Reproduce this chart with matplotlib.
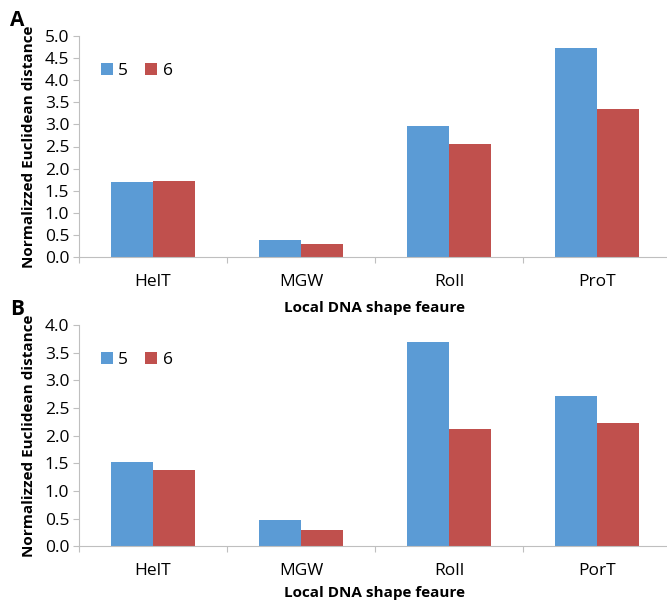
import matplotlib
matplotlib.use('Agg')
import matplotlib.pyplot as plt
import numpy as np

plt.rcParams['font.family'] = ['Open Sans', 'DejaVu Sans']

# Data
features_a = ['HelT', 'MGW', 'Roll', 'ProT']
features_b = ['HelT', 'MGW', 'Roll', 'PorT']
series_names = ['5', '6']
vals_a_5 = [1.70, 0.385, 2.97, 4.73]
vals_a_6 = [1.73, 0.30, 2.56, 3.34]
vals_b_5 = [1.52, 0.475, 3.70, 2.72]
vals_b_6 = [1.385, 0.295, 2.115, 2.235]

blue = '#5B9BD5'
red = '#C0504D'
axis_gray = '#BFBFBF'

fig = plt.figure(figsize=(6.67, 6.02), dpi=100)

def draw_panel(ax, feats, v5, v6, ymax, letter, xpad):
    x = np.arange(len(feats))
    w = 0.284
    ax.bar(x - w / 2, v5, w, color=blue, label=series_names[0], edgecolor='none')
    ax.bar(x + w / 2, v6, w, color=red, label=series_names[1], edgecolor='none')
    ax.set_xlim(-0.5, len(feats) - 0.5)
    ax.set_ylim(0, ymax)
    ticks = np.arange(0, ymax + 0.01, 0.5)
    ax.set_yticks(ticks)
    ax.set_yticklabels(['%.1f' % t for t in ticks], fontsize=12.5)
    # category boundaries as major ticks, names as minor ticks
    ax.set_xticks(np.arange(-0.5, len(feats) + 0.5, 1.0))
    ax.set_xticklabels([])
    ax.set_xticks(x, minor=True)
    ax.set_xticklabels(feats, minor=True, fontsize=12.5)
    ax.tick_params(axis='x', which='minor', length=0, pad=12)
    ax.tick_params(axis='x', which='major', length=4, color=axis_gray)
    ax.tick_params(axis='y', length=4, color=axis_gray, pad=3)
    for s in ['top', 'right']:
        ax.spines[s].set_visible(False)
    ax.spines['left'].set_color(axis_gray)
    ax.spines['bottom'].set_color(axis_gray)
    ax.set_ylabel('Normalizzed Euclidean distance', fontsize=11, fontweight='bold', labelpad=6)
    ax.set_xlabel('Local DNA shape feaure', fontsize=11, fontweight='bold', labelpad=xpad)
    ax.legend(loc='upper left', bbox_to_anchor=(0.01, 0.95), ncol=2, frameon=False,
              fontsize=12.5, handlelength=0.7, handleheight=0.7, handletextpad=0.3,
              columnspacing=1.0)
    fig.text(0.015, ax.get_position().y1 + 0.008, letter, fontsize=15, fontweight='bold',
             ha='left', va='bottom')

ax_a = fig.add_axes([79 / 667, (602 - 257) / 602, 592 / 667, 221 / 602])
draw_panel(ax_a, features_a, vals_a_5, vals_a_6, 5.0, 'A', 8)

ax_b = fig.add_axes([79 / 667, (602 - 546.3) / 602, 592 / 667, 221.3 / 602])
draw_panel(ax_b, features_b, vals_b_5, vals_b_6, 4.0, 'B', 5)

plt.savefig('out.png', dpi=100)
